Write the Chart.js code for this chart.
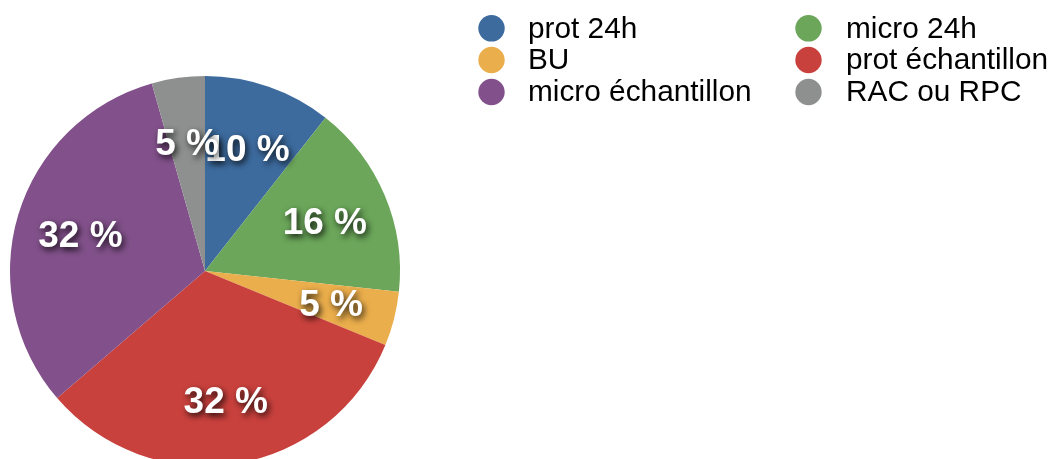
<!DOCTYPE html>
<html>
<head>
<meta charset="utf-8">
<script src="https://cdn.jsdelivr.net/npm/chart.js@4/dist/chart.umd.min.js"></script>
<style>
  html, body { margin: 0; padding: 0; background: #ffffff; overflow: hidden; width: 1052px; height: 459px; }
  #wrap { position: absolute; left: 0; top: 0; width: 1052px; height: 480px; }
</style>
</head>
<body>
<div id="wrap"><canvas id="c" width="1052" height="480"></canvas></div>
<script>
const categories = ['prot 24h', 'micro 24h', 'BU', 'prot échantillon', 'micro échantillon', 'RAC ou RPC'];
const values = [10.6, 16.1, 4.5, 32.5, 31.9, 4.4];
const pctLabels = ['10 %', '16 %', '5 %', '32 %', '32 %', '5 %'];
const colors = ['#3d6b9e', '#6ba65a', '#ebae4c', '#c9413d', '#82518b', '#8e908f'];
// legend order as displayed (two columns, row by row)
const legendOrder = [0, 1, 2, 3, 4, 5];

const FONT = '"Liberation Sans", Helvetica, Arial, sans-serif';

const labelPlugin = {
  id: 'sliceLabels',
  afterDatasetsDraw(chart) {
    const ctx = chart.ctx;
    const meta = chart.getDatasetMeta(0);
    ctx.save();
    ctx.font = 'bold 37px ' + FONT;
    ctx.textAlign = 'center';
    ctx.textBaseline = 'middle';
    ctx.fillStyle = '#ffffff';
    ctx.shadowColor = 'rgba(0,0,0,0.85)';
    ctx.shadowBlur = 6;
    ctx.shadowOffsetX = 2;
    ctx.shadowOffsetY = 3;
    meta.data.forEach((arc, i) => {
      const p = arc.getProps(['x', 'y', 'startAngle', 'endAngle', 'outerRadius'], true);
      const mid = (p.startAngle + p.endAngle) / 2;
      const r = p.outerRadius * 0.667;
      ctx.fillText(pctLabels[i], p.x + Math.cos(mid) * r, p.y + Math.sin(mid) * r + 3);
    });
    ctx.restore();
  }
};

const legendPlugin = {
  id: 'customLegend',
  afterDraw(chart) {
    const ctx = chart.ctx;
    ctx.save();
    ctx.font = '29.8px ' + FONT;
    ctx.textAlign = 'left';
    ctx.textBaseline = 'middle';
    const colX = [491.5, 808.5];
    const textX = [528, 846];
    const rowY = [28.3, 60, 92];
    legendOrder.forEach((idx, k) => {
      const col = k % 2;
      const row = Math.floor(k / 2);
      ctx.fillStyle = colors[idx];
      ctx.beginPath();
      ctx.arc(colX[col], rowY[row], 13.2, 0, Math.PI * 2);
      ctx.fill();
      ctx.fillStyle = '#000000';
      ctx.fillText(categories[idx], textX[col], rowY[row] + 1);
    });
    ctx.restore();
  }
};

new Chart(document.getElementById('c'), {
  type: 'pie',
  data: {
    labels: categories,
    datasets: [{
      data: values,
      backgroundColor: colors,
      borderWidth: 0
    }]
  },
  options: {
    responsive: false,
    animation: false,
    layout: { padding: { left: 10, right: 652, top: 76, bottom: 14 } },
    plugins: {
      legend: { display: false },
      tooltip: { enabled: false }
    }
  },
  plugins: [labelPlugin, legendPlugin]
});
</script>
</body>
</html>
